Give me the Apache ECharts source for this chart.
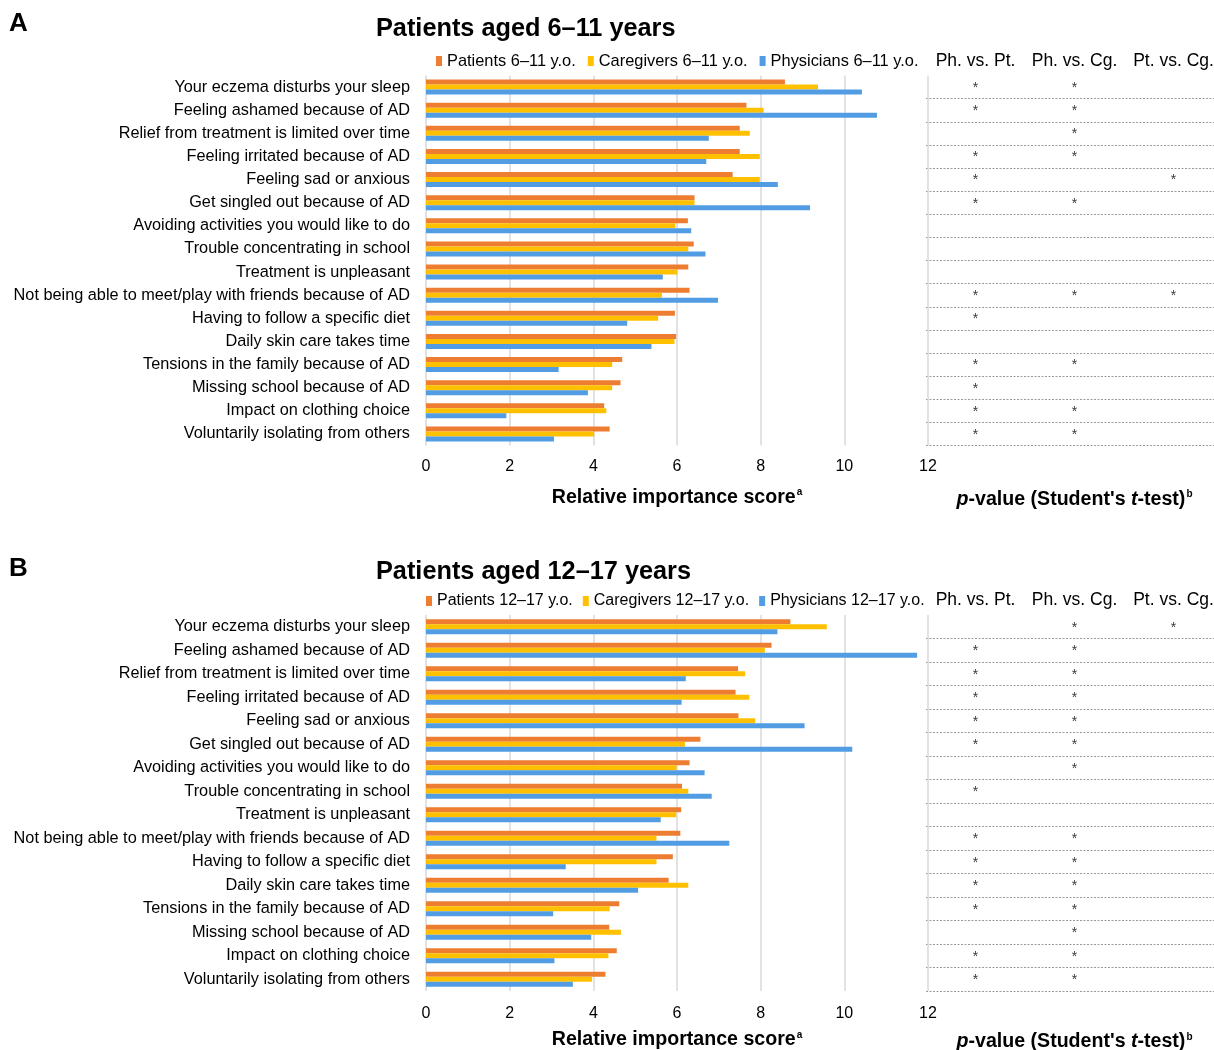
<!DOCTYPE html>
<html>
<head>
<meta charset="utf-8">
<script src="https://cdn.jsdelivr.net/npm/echarts@6/dist/echarts.min.js"></script>
<style>
  html, body { margin: 0; padding: 0; background: #fff; }
  #chart { width: 1214px; height: 1050px; }
</style>
</head>
<body>
<div id="chart"></div>
<script>
// Burden items, listed top to bottom
const categories = [
  'Your eczema disturbs your sleep',
  'Feeling ashamed because of AD',
  'Relief from treatment is limited over time',
  'Feeling irritated because of AD',
  'Feeling sad or anxious',
  'Get singled out because of AD',
  'Avoiding activities you would like to do',
  'Trouble concentrating in school',
  'Treatment is unpleasant',
  'Not being able to meet/play with friends because of AD',
  'Having to follow a specific diet',
  'Daily skin care takes time',
  'Tensions in the family because of AD',
  'Missing school because of AD',
  'Impact on clothing choice',
  'Voluntarily isolating from others'
];

const scoreTicks = ['0', '2', '4', '6', '8', '10', '12'];
const comparisons = ['Ph. vs. Pt.', 'Ph. vs. Cg.', 'Pt. vs. Cg.'];

// Relative importance scores, patients aged 6-11
const patients611   = [8.58, 7.66, 7.50, 7.50, 7.33, 6.42, 6.26, 6.40, 6.27, 6.30, 5.95, 5.98, 4.69, 4.65, 4.26, 4.39];
const caregivers611 = [9.37, 8.07, 7.74, 7.98, 7.98, 6.42, 5.96, 6.27, 6.01, 5.64, 5.55, 5.94, 4.45, 4.45, 4.31, 4.02];
const physicians611 = [10.42, 10.78, 6.76, 6.70, 8.41, 9.18, 6.34, 6.68, 5.66, 6.98, 4.81, 5.39, 3.17, 3.87, 1.92, 3.06];

// Relative importance scores, patients aged 12-17
const patients1217   = [8.71, 8.26, 7.46, 7.40, 7.47, 6.56, 6.30, 6.12, 6.10, 6.08, 5.90, 5.80, 4.62, 4.38, 4.56, 4.29];
const caregivers1217 = [9.58, 8.10, 7.63, 7.73, 7.87, 6.19, 5.99, 6.27, 5.98, 5.51, 5.51, 6.27, 4.39, 4.66, 4.36, 3.97];
const physicians1217 = [8.40, 11.74, 6.21, 6.11, 9.05, 10.19, 6.66, 6.83, 5.61, 7.25, 3.34, 5.07, 3.04, 3.95, 3.07, 3.51];

// Significant differences (1 = p < 0.05), one array per comparison
const sigPhPt611 = [1, 1, 0, 1, 1, 1, 0, 0, 0, 1, 1, 0, 1, 1, 1, 1];
const sigPhCg611 = [1, 1, 1, 1, 0, 1, 0, 0, 0, 1, 0, 0, 1, 0, 1, 1];
const sigPtCg611 = [0, 0, 0, 0, 1, 0, 0, 0, 0, 1, 0, 0, 0, 0, 0, 0];

const sigPhPt1217 = [0, 1, 1, 1, 1, 1, 0, 1, 0, 1, 1, 1, 1, 0, 1, 1];
const sigPhCg1217 = [1, 1, 1, 1, 1, 1, 1, 0, 0, 1, 1, 1, 1, 1, 1, 1];
const sigPtCg1217 = [1, 0, 0, 0, 0, 0, 0, 0, 0, 0, 0, 0, 0, 0, 0, 0];

const FONT = '"Liberation Sans", Arial, Helvetica, sans-serif';
const COLORS = ['#ED7D31', '#FFC000', '#519CE2'];

const panels = [
  {
    letter: 'A', title: 'Patients aged 6\u201311 years',
    names: ['Patients 6\u201311 y.o.', 'Caregivers 6\u201311 y.o.', 'Physicians 6\u201311 y.o.'],
    values: [patients611, caregivers611, physicians611],
    sig: [sigPhPt611, sigPhCg611, sigPtCg611],
    letterTop: 11, titleTop: 17, legendLeft: 436, legendTop: 53, legendGap: 12, legendFont: 16.4,
    gridTop: 75.5, gridHeight: 370, headerMargin: 5, tickMargin: 13, nameGap: 42
  },
  {
    letter: 'B', title: 'Patients aged 12\u201317 years',
    names: ['Patients 12\u201317 y.o.', 'Caregivers 12\u201317 y.o.', 'Physicians 12\u201317 y.o.'],
    values: [patients1217, caregivers1217, physicians1217],
    sig: [sigPhPt1217, sigPhCg1217, sigPtCg1217],
    letterTop: 556, titleTop: 560, legendLeft: 426, legendTop: 593, legendGap: 10, legendFont: 16,
    gridTop: 615, gridHeight: 376, headerMargin: 6, tickMargin: 15, nameGap: 39
  }
];

const option = {
  animation: false,
  backgroundColor: '#fff',
  textStyle: { fontFamily: FONT },
  title: [], legend: [], grid: [], xAxis: [], yAxis: [], series: []
};

const nameRich = {
  b: { fontFamily: FONT, fontSize: 19.6, fontWeight: 'bold', color: '#000' },
  i: { fontFamily: FONT, fontSize: 19.6, fontWeight: 'bold', fontStyle: 'italic', color: '#000' },
  s: { fontFamily: FONT, fontSize: 10, fontWeight: 'bold', color: '#000', verticalAlign: 'top', padding: [0, 0, 0, 1] }
};

panels.forEach((p, k) => {
  option.title.push(
    { text: p.letter, left: 9, top: p.letterTop, padding: 0,
      textStyle: { fontFamily: FONT, fontSize: 26, fontWeight: 'bold', color: '#000' } },
    { text: p.title, left: 376, top: p.titleTop, padding: 0,
      textStyle: { fontFamily: FONT, fontSize: 25.3, fontWeight: 'bold', color: '#000' } }
  );

  option.legend.push({
    left: p.legendLeft, top: p.legendTop, padding: 0,
    icon: 'rect', itemWidth: 6, itemHeight: 10, itemGap: p.legendGap,
    data: p.names,
    selectedMode: false,
    textStyle: { fontFamily: FONT, fontSize: p.legendFont, color: '#000' }
  });

  // bar grid and comparison table grid
  option.grid.push(
    { left: 426, width: 502, top: p.gridTop, height: p.gridHeight, outerBoundsMode: 'none' },
    { left: 926, width: 297, top: p.gridTop, height: p.gridHeight, outerBoundsMode: 'none' }
  );
  const gMain = 2 * k, gTable = 2 * k + 1;
  const xMain = 3 * k, xHead = 3 * k + 1;
  const yMain = 2 * k, yTable = 2 * k + 1;

  option.xAxis.push(
    {
      type: 'value', gridIndex: gMain, min: 0, max: 12, interval: 2,
      axisLine: { show: false }, axisTick: { show: false },
      axisLabel: { margin: p.tickMargin, fontFamily: FONT, fontSize: 16, color: '#000',
                   formatter: v => scoreTicks[Math.round(v / 2)] },
      splitLine: { show: true, lineStyle: { color: '#d9d9d9', width: 1.5 } },
      name: '{b|Relative importance score}{s|a}',
      nameLocation: 'middle', nameGap: p.nameGap,
      nameTextStyle: { rich: nameRich }
    },
    {
      type: 'category', gridIndex: gTable, position: 'top', data: comparisons,
      axisLine: { show: false }, axisTick: { show: false },
      axisLabel: { margin: p.headerMargin, fontFamily: FONT, fontSize: 17.5, color: '#000', interval: 0 },
      splitLine: { show: false }
    },
    {
      type: 'category', gridIndex: gTable, position: 'bottom', data: comparisons,
      axisLine: { show: false }, axisTick: { show: false }, axisLabel: { show: false },
      name: "{i|p}{b|-value (Student's }{i|t}{b|-test)}{s|b}",
      nameLocation: 'middle', nameGap: p.nameGap + 2,
      nameTextStyle: { rich: nameRich }
    }
  );

  option.yAxis.push(
    {
      type: 'category', gridIndex: gMain, data: categories, inverse: true,
      axisLine: { show: false }, axisTick: { show: false },
      axisLabel: { margin: 16, fontFamily: FONT, fontSize: 16.3, color: '#000', interval: 0 }
    },
    {
      type: 'category', gridIndex: gTable, data: categories, inverse: true,
      axisLine: { show: false }, axisTick: { show: false }, axisLabel: { show: false },
      splitLine: { show: true, showMinLine: false,
                   lineStyle: { color: '#9a9a9a', width: 1, type: [2, 1.5] } }
    }
  );

  p.names.forEach((name, s) => {
    option.series.push({
      type: 'bar', name: name,
      xAxisIndex: xMain, yAxisIndex: yMain,
      data: p.values[s],
      barWidth: 5, barGap: '0%',
      itemStyle: { color: COLORS[s] },
      emphasis: { disabled: true }
    });
  });

  // asterisks marking significant comparisons
  const stars = [];
  p.sig.forEach((arr, c) => {
    arr.forEach((flag, r) => { if (flag) stars.push([comparisons[c], categories[r]]); });
  });
  option.series.push({
    type: 'scatter', xAxisIndex: xHead, yAxisIndex: yTable,
    data: stars, symbol: 'circle', symbolSize: 1,
    itemStyle: { color: 'rgba(0,0,0,0)' },
    label: { show: true, position: 'inside', formatter: '*', fontFamily: FONT,
             fontSize: 14, color: '#000', offset: [0, 1] },
    emphasis: { disabled: true }, silent: true
  });
});

const chart = echarts.init(document.getElementById('chart'), null, { width: 1214, height: 1050 });
chart.setOption(option);
</script>
</body>
</html>
